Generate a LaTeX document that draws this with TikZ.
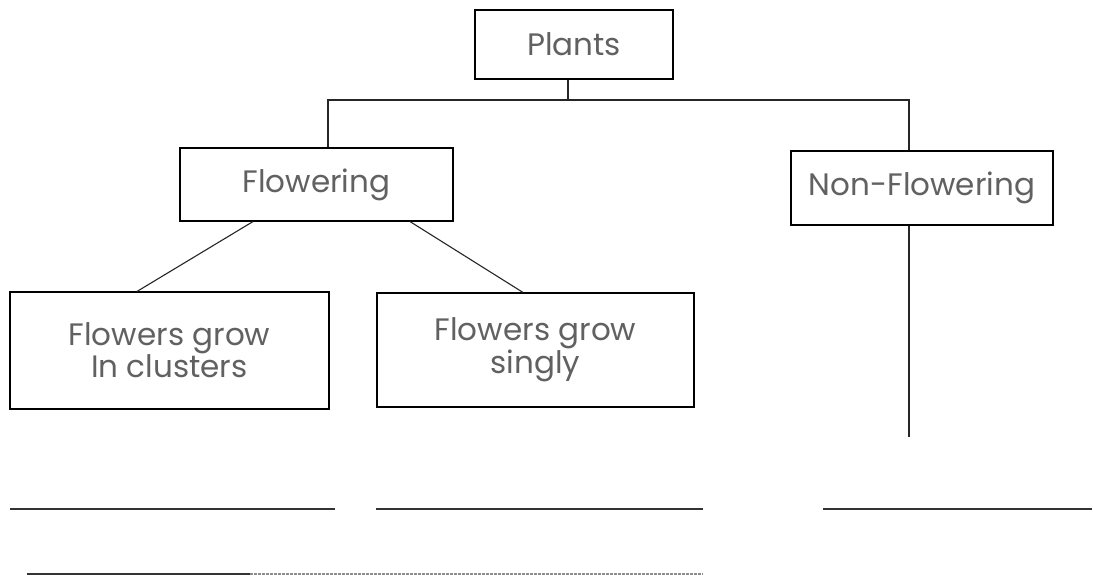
\documentclass[tikz,border=0pt]{standalone}
\usepackage{fontspec}
\setmainfont{Poppins}
\begin{document}
\begin{tikzpicture}[x=1pt,y=-1pt,
  box/.style={draw=black, line width=1.1pt, rectangle, inner sep=0pt, align=center,
    text=black!62, font=\fontsize{31}{28}\selectfont},
  conn/.style={draw=black!85, line width=1.1pt},
  blank/.style={draw=black!80, line width=1.1pt}]
\useasboundingbox (0,0) rectangle (1093,587);
\fill[white] (0,0) rectangle (1093,587);
\node[box, minimum width=198pt, minimum height=69pt] (plants) at (574,44.5) {Plants};
\node[box, minimum width=273pt, minimum height=73pt] (flow) at (316.5,184.5) {Flowering};
\node[box, minimum width=262pt, minimum height=74pt] (nonflow) at (922,188) {Non-Flowering};
\node[box, minimum width=319pt, minimum height=117pt] (clusters) at (169.5,350.5) {Flowers grow\\In clusters};
\node[box, minimum width=317pt, minimum height=114pt] (singly) at (535.5,350) {Flowers grow\\singly};
\coordinate (hl) at (328,100);
\coordinate (hr) at (909,100);
\coordinate (nfend) at (909,437);
\draw[conn] ([xshift=-6pt]plants.south) -- ([xshift=-6pt]plants.south |- hl);
\draw[conn] (flow.north -| hl) -- (hl) -- (hr) -- (nonflow.north -| hr);
\draw[conn] ([xshift=-63.5pt]flow.south) -- ([xshift=-32.5pt]clusters.north);
\draw[conn] ([xshift=93.5pt]flow.south) -- ([xshift=-12.5pt]singly.north);
\draw[conn] (nonflow.south -| nfend) -- (nfend);
\coordinate (b1a) at (10,509); \coordinate (b1b) at (335,509);
\coordinate (b2a) at (376,509); \coordinate (b2b) at (703,509);
\coordinate (b3a) at (823,509); \coordinate (b3b) at (1092,509);
\coordinate (b4a) at (27,574); \coordinate (b4m) at (250,574); \coordinate (b4b) at (703,574);
\draw[blank] (b1a) -- (b1b);
\draw[blank] (b2a) -- (b2b);
\draw[blank] (b3a) -- (b3b);
\draw[blank] (b4a) -- (b4m);
\draw[blank, draw=black!45, dash pattern=on 3pt off 1pt] (b4m) -- (b4b);
\end{tikzpicture}
\end{document}
